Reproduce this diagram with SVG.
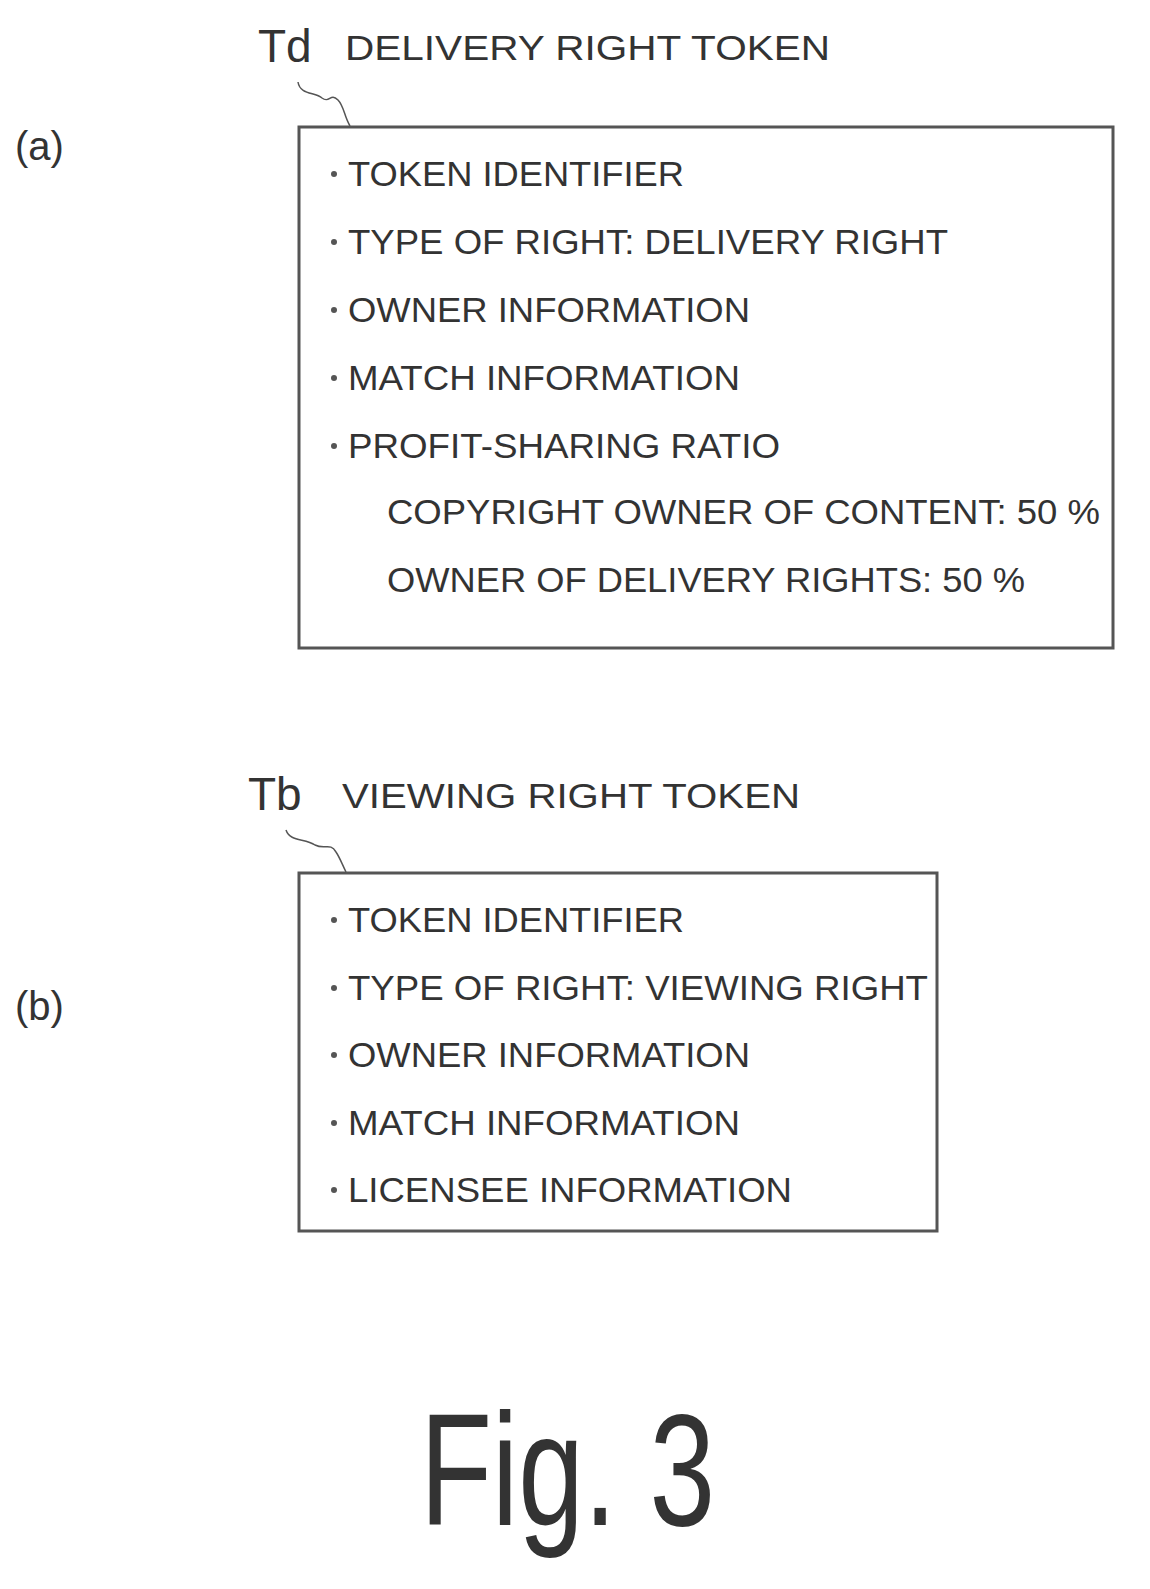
<svg xmlns="http://www.w3.org/2000/svg" width="1150" height="1589" viewBox="0 0 1150 1589">
<style>
text{font-family:"Liberation Sans",Arial,sans-serif;fill:#333}
.t{font-size:35px}
.big{font-size:46px}
.box{fill:none;stroke:#555;stroke-width:3}
.lead{fill:none;stroke:#555;stroke-width:1.5}
.dot{fill:#555}
</style>
<rect width="1150" height="1589" fill="#fff"/>
<text x="15" y="160" style="font-size:40px">(a)</text>
<text x="15" y="1020" style="font-size:40px">(b)</text>
<g id="tokenTd">
<text class="big" x="258" y="62">Td</text>
<text class="t" x="345" y="60" textLength="485" lengthAdjust="spacingAndGlyphs">DELIVERY RIGHT TOKEN</text>
<rect class="box" x="299" y="127" width="814" height="521"/>
<g class="dot"><circle cx="334" cy="174" r="3"/><circle cx="334" cy="242" r="3"/><circle cx="334" cy="310" r="3"/><circle cx="334" cy="378" r="3"/><circle cx="334" cy="446" r="3"/></g>
<text class="t" x="348" y="186" textLength="336" lengthAdjust="spacingAndGlyphs">TOKEN IDENTIFIER</text>
<text class="t" x="348" y="254" textLength="600" lengthAdjust="spacingAndGlyphs">TYPE OF RIGHT: DELIVERY RIGHT</text>
<text class="t" x="348" y="322" textLength="402" lengthAdjust="spacingAndGlyphs">OWNER INFORMATION</text>
<text class="t" x="348" y="390" textLength="392" lengthAdjust="spacingAndGlyphs">MATCH INFORMATION</text>
<text class="t" x="348" y="458" textLength="432" lengthAdjust="spacingAndGlyphs">PROFIT-SHARING RATIO</text>
<text class="t" x="387" y="524" textLength="713" lengthAdjust="spacingAndGlyphs">COPYRIGHT OWNER OF CONTENT: 50 %</text>
<text class="t" x="387" y="592" textLength="638" lengthAdjust="spacingAndGlyphs">OWNER OF DELIVERY RIGHTS: 50 %</text>
</g>
<g id="tokenTb">
<text class="big" x="248" y="810">Tb</text>
<text class="t" x="342" y="808" textLength="458" lengthAdjust="spacingAndGlyphs">VIEWING RIGHT TOKEN</text>
<rect class="box" x="299" y="873" width="638" height="358"/>
<g class="dot"><circle cx="334" cy="920" r="3"/><circle cx="334" cy="988" r="3"/><circle cx="334" cy="1055" r="3"/><circle cx="334" cy="1123" r="3"/><circle cx="334" cy="1190" r="3"/></g>
<text class="t" x="348" y="932" textLength="336" lengthAdjust="spacingAndGlyphs">TOKEN IDENTIFIER</text>
<text class="t" x="348" y="1000" textLength="580" lengthAdjust="spacingAndGlyphs">TYPE OF RIGHT: VIEWING RIGHT</text>
<text class="t" x="348" y="1067" textLength="402" lengthAdjust="spacingAndGlyphs">OWNER INFORMATION</text>
<text class="t" x="348" y="1135" textLength="392" lengthAdjust="spacingAndGlyphs">MATCH INFORMATION</text>
<text class="t" x="348" y="1202" textLength="444" lengthAdjust="spacingAndGlyphs">LICENSEE INFORMATION</text>
</g>
<g id="connectors">
<path class="lead" d="M298,82 C300,95 315,92 322,98 C330,104 330,92 338,100 C344,106 344,116 350,126"/>
<path class="lead" d="M286,830 C290,842 305,838 315,845 C325,850 330,842 336,852 C340,858 342,864 346,872"/>
</g>
<text x="420" y="1525" style="font-size:160px" textLength="295" lengthAdjust="spacingAndGlyphs">Fig. 3</text>
</svg>
